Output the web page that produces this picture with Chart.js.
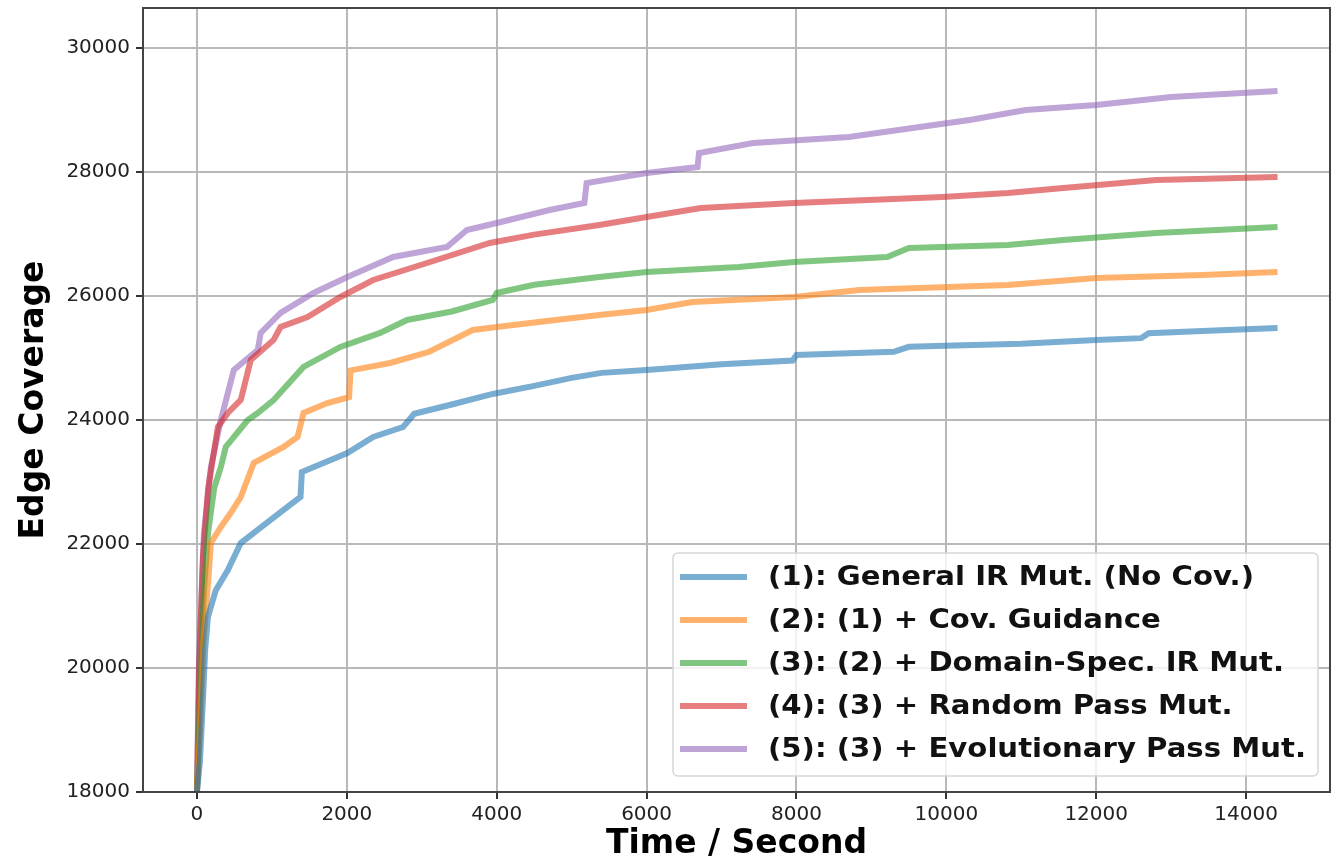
<!DOCTYPE html>
<html>
<head>
    <title>Edge Coverage over Time</title>
    <meta charset="UTF-8">
    <style>
        body { margin: 0; padding: 0; background: #fff; }
        #wrap { width: 1342px; height: 864px; }
    </style>
    <script src="https://cdn.jsdelivr.net/npm/chart.js@4.4.1/dist/chart.umd.min.js"></script>
</head>
<body>
    <div id="wrap"><canvas id="cov-chart" width="1342" height="864"></canvas></div>

    <script>
        // Series data (time in seconds, edge coverage)
        const labels = [
            '(1): General IR Mut. (No Cov.)',
            '(2): (1) + Cov. Guidance',
            '(3): (2) + Domain-Spec. IR Mut.',
            '(4): (3) + Random Pass Mut.',
            '(5): (3) + Evolutionary Pass Mut.'
        ];
        const colors = [
            'rgba(31, 119, 180, 0.6)',
            'rgba(255, 127, 14, 0.6)',
            'rgba(44, 160, 44, 0.6)',
            'rgba(214, 39, 40, 0.6)',
            'rgba(148, 103, 189, 0.6)'
        ];

        const t1 = [0, 40, 80, 110, 146, 250, 412, 585, 810, 1156, 1382, 1400, 1688, 2007, 2352, 2751, 2900, 3400, 3947, 4500, 5000, 5400, 6000, 7000, 7950, 8000, 9300, 9500, 10113, 11000, 12000, 12600, 12700, 13500, 14420];
        const c1 = [18000, 18500, 19500, 20300, 20820, 21250, 21580, 22016, 22226, 22549, 22758, 23160, 23307, 23468, 23726, 23887, 24100, 24250, 24420, 24550, 24680, 24760, 24807, 24900, 24960, 25050, 25100, 25180, 25200, 25230, 25291, 25320, 25400, 25440, 25485];

        const t2 = [0, 40, 90, 150, 186, 319, 450, 585, 758, 1156, 1342, 1422, 1741, 2030, 2050, 2578, 3100, 3681, 4000, 4700, 5369, 6000, 6610, 7967, 8840, 10820, 12000, 13420, 14420];
        const c2 = [18000, 19000, 20500, 21400, 22016, 22274, 22500, 22758, 23307, 23565, 23726, 24113, 24274, 24370, 24800, 24920, 25100, 25452, 25500, 25600, 25694, 25775, 25904, 25984, 26097, 26178, 26290, 26339, 26387];

        const t3 = [0, 40, 90, 150, 230, 319, 385, 678, 811, 1023, 1422, 1914, 2445, 2804, 3400, 3947, 4000, 4500, 5369, 6000, 7230, 7967, 9210, 9500, 10820, 11560, 12800, 14420];
        const c3 = [18000, 19500, 21200, 22200, 22900, 23242, 23565, 24000, 24113, 24323, 24855, 25178, 25404, 25613, 25750, 25936, 26049, 26180, 26307, 26387, 26468, 26549, 26630, 26775, 26823, 26904, 27017, 27113];

        const t4 = [0, 30, 80, 150, 279, 412, 585, 718, 1023, 1116, 1475, 1914, 2352, 3070, 3907, 4500, 5369, 6000, 6725, 7967, 9950, 10820, 11560, 12800, 14420];
        const c4 = [18000, 20000, 21800, 22900, 23887, 24113, 24323, 24968, 25291, 25500, 25662, 25984, 26258, 26532, 26855, 26990, 27145, 27274, 27420, 27500, 27597, 27661, 27742, 27871, 27920];

        const t5 = [0, 25, 93, 186, 319, 492, 811, 851, 1116, 1555, 2007, 2618, 3336, 3602, 4000, 4705, 5170, 5200, 6000, 6680, 6700, 7420, 8700, 10310, 11060, 12000, 13000, 14420];
        const c5 = [18000, 20000, 22177, 23242, 24000, 24807, 25130, 25404, 25726, 26049, 26307, 26630, 26791, 27065, 27178, 27387, 27500, 27823, 27984, 28081, 28307, 28468, 28565, 28839, 29000, 29081, 29210, 29307];

        const xTicks = [0, 2000, 4000, 6000, 8000, 10000, 12000, 14000];
        const yTicks = [18000, 20000, 22000, 24000, 26000, 28000, 30000];

        const times = [t1, t2, t3, t4, t5];
        const covs = [c1, c2, c3, c4, c5];

        const FONT = "'DejaVu Sans', sans-serif";

        // legend drawn inside the plot, lower right (like matplotlib)
        const boxLegend = {
            id: 'boxLegend',
            afterDraw(chart) {
                const ctx = chart.ctx;
                const area = chart.chartArea;
                const stretch = 1.08;
                ctx.save();
                ctx.font = 'bold 27px ' + FONT;
                let maxW = 0;
                labels.forEach(l => { maxW = Math.max(maxW, ctx.measureText(l).width * stretch); });
                const rowH = 43;
                const w = 7 + 67 + 21 + maxW + 12;
                const h = rowH * labels.length + 8;
                const x0 = area.right - 12 - w;
                const y0 = area.bottom - 16 - h;
                ctx.beginPath();
                ctx.roundRect(x0, y0, w, h, 5);
                ctx.fillStyle = 'rgba(255,255,255,0.8)';
                ctx.fill();
                ctx.strokeStyle = '#d6d6d6';
                ctx.lineWidth = 1.5;
                ctx.stroke();
                labels.forEach((l, i) => {
                    const y = y0 + 24 + i * rowH;
                    ctx.beginPath();
                    ctx.moveTo(x0 + 7, y);
                    ctx.lineTo(x0 + 74, y);
                    ctx.strokeStyle = colors[i];
                    ctx.lineWidth = 6;
                    ctx.stroke();
                    ctx.save();
                    ctx.translate(x0 + 95, y + 1);
                    ctx.scale(stretch, 1);
                    ctx.fillStyle = '#111';
                    ctx.textBaseline = 'middle';
                    ctx.fillText(l, 0, 0);
                    ctx.restore();
                });
                // frame on top and right
                ctx.strokeStyle = '#444';
                ctx.lineWidth = 2;
                ctx.strokeRect(area.left, area.top, area.right - area.left, area.bottom - area.top);
                ctx.restore();
            }
        };

        const ctx = document.getElementById('cov-chart').getContext('2d');
        const covChart = new Chart(ctx, {
            type: 'line',
            data: {
                datasets: labels.map((l, i) => ({
                    label: l,
                    data: times[i].map((t, j) => ({ x: t, y: covs[i][j] })),
                    borderColor: colors[i],
                    borderWidth: 6,
                    pointRadius: 0,
                    tension: 0,
                    fill: false
                }))
            },
            options: {
                responsive: false,
                animation: false,
                layout: { padding: { top: 8, right: 12, left: 0, bottom: 0 } },
                plugins: {
                    legend: { display: false },
                    tooltip: { enabled: false }
                },
                scales: {
                    x: {
                        type: 'linear',
                        min: -720,
                        max: 15120,
                        afterBuildTicks: s => { s.ticks = xTicks.map(v => ({ value: v })); },
                        afterFit: s => { s.height = 72; s.paddingRight = 0; },
                        ticks: {
                            font: { family: FONT, size: 20 },
                            color: '#222',
                            padding: 4,
                            maxRotation: 0,
                            callback: v => String(v)
                        },
                        grid: { color: '#b8b8b8', lineWidth: 2, tickColor: '#333', tickLength: 7 },
                        border: { color: '#444', width: 2 },
                        title: {
                            display: true,
                            text: 'Time / Second',
                            font: { family: FONT, size: 33, weight: 'bold' },
                            color: '#000',
                            padding: 0
                        }
                    },
                    y: {
                        type: 'linear',
                        min: 18000,
                        max: 30645,
                        afterBuildTicks: s => { s.ticks = yTicks.map(v => ({ value: v })); },
                        afterFit: s => { s.width = 143; s.paddingTop = 0; },
                        ticks: {
                            font: { family: FONT, size: 20 },
                            color: '#222',
                            padding: 6,
                            callback: v => String(v)
                        },
                        grid: { color: '#b8b8b8', lineWidth: 2, tickColor: '#333', tickLength: 7 },
                        border: { color: '#444', width: 2 },
                        title: {
                            display: true,
                            text: 'Edge Coverage',
                            font: { family: FONT, size: 33, weight: 'bold' },
                            color: '#000',
                            padding: { top: 15, bottom: 0 }
                        }
                    }
                }
            },
            plugins: [boxLegend]
        });
    </script>
</body>
</html>
